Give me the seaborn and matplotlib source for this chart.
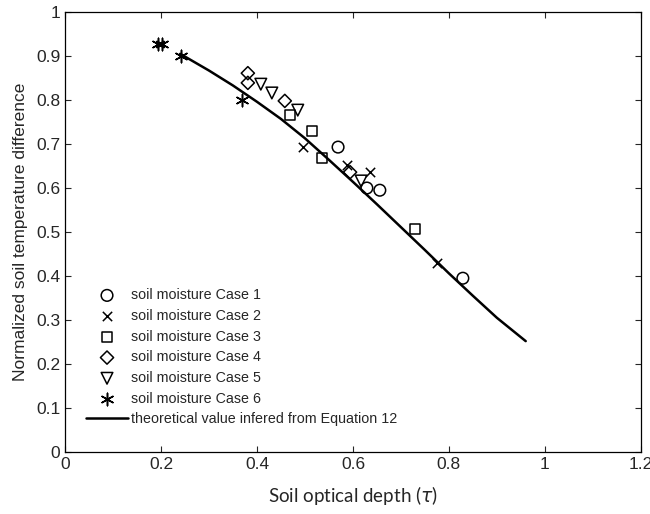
import numpy as np
import pandas as pd
import seaborn as sns
from matplotlib import pyplot as plt

# soil moisture cases (optical depth tau, normalized temperature difference)
case1_x = [0.569, 0.629, 0.656, 0.829]
case1_y = [0.693, 0.600, 0.595, 0.395]
case2_x = [0.496, 0.588, 0.635, 0.775]
case2_y = [0.693, 0.652, 0.636, 0.430]
case3_x = [0.469, 0.515, 0.535, 0.729]
case3_y = [0.766, 0.730, 0.668, 0.507]
case4_x = [0.381, 0.381, 0.458, 0.594]
case4_y = [0.861, 0.839, 0.798, 0.636]
case5_x = [0.408, 0.431, 0.485, 0.617]
case5_y = [0.836, 0.816, 0.777, 0.616]
case6_x = [0.194, 0.203, 0.242, 0.369]
case6_y = [0.928, 0.928, 0.900, 0.800]

# theoretical curve
theory_x = [0.24, 0.30, 0.35, 0.40, 0.45, 0.50, 0.55, 0.60, 0.65, 0.70, 0.75, 0.80, 0.85, 0.90, 0.96]
theory_y = [0.905, 0.867, 0.833, 0.796, 0.757, 0.713, 0.664, 0.614, 0.563, 0.511, 0.459, 0.406, 0.355, 0.305, 0.252]

sns.set_style('ticks')
plt.rcParams['font.family'] = ['Liberation Sans', 'DejaVu Sans']

fig = plt.figure(figsize=(6.5, 5.14), dpi=100)
ax = fig.add_axes([0.1, 0.1206, 0.886, 0.856])

cases = [(case1_x, case1_y, 'o'), (case2_x, case2_y, 'x'), (case3_x, case3_y, 's'),
         (case4_x, case4_y, 'D'), (case5_x, case5_y, 'v'), (case6_x, case6_y, (6, 2, 0))]
sizes = {'o': 70, 'x': 45, 's': 50, 'D': 45, 'v': 70}
for i, (xs, ys, m) in enumerate(cases):
    df = pd.DataFrame({'x': xs, 'y': ys})
    label = 'soil moisture Case %d' % (i + 1)
    if isinstance(m, tuple):
        sns.scatterplot(data=df, x='x', y='y', marker=m, color='black', s=80,
                        linewidth=1.1, ax=ax, label=label, zorder=3)
    elif m == 'x':
        sns.scatterplot(data=df, x='x', y='y', marker=m, color='black', s=sizes[m],
                        linewidth=1.1, ax=ax, label=label, zorder=3)
    else:
        sns.scatterplot(data=df, x='x', y='y', marker=m, facecolors='none', edgecolor='black',
                        s=sizes[m], linewidth=1.1, ax=ax, label=label, zorder=3)

theory = pd.DataFrame({'x': theory_x, 'y': theory_y})
sns.lineplot(data=theory, x='x', y='y', color='black', linewidth=1.8, ax=ax,
             label='theoretical value infered from Equation 12', sort=True)

ax.set_xlim(0, 1.2)
ax.set_ylim(0, 1)
ax.set_xticks(np.arange(0, 1.21, 0.2))
ax.set_xticklabels(['0', '0.2', '0.4', '0.6', '0.8', '1', '1.2'])
ax.set_yticks(np.arange(0, 1.01, 0.1))
ax.set_yticklabels(['0', '0.1', '0.2', '0.3', '0.4', '0.5', '0.6', '0.7', '0.8', '0.9', '1'])
ax.tick_params(direction='in', top=True, right=True, labelsize=12.5, length=4, width=0.8)
for sp in ax.spines.values():
    sp.set_linewidth(0.9)
    sp.set_color('black')

ax.set_xlabel(r'Soil optical depth ($\tau$)', fontsize=13.5, family=['Lato', 'DejaVu Sans'], labelpad=9)
ax.set_ylabel('Normalized soil temperature difference', fontsize=12.5, labelpad=6)

ax.legend(loc='lower left', bbox_to_anchor=(0.027, 0.045), frameon=False, fontsize=10.3,
          handlelength=2.9, handletextpad=0.2, labelspacing=0.47, borderaxespad=0)

fig.savefig('out.png', dpi=100)
